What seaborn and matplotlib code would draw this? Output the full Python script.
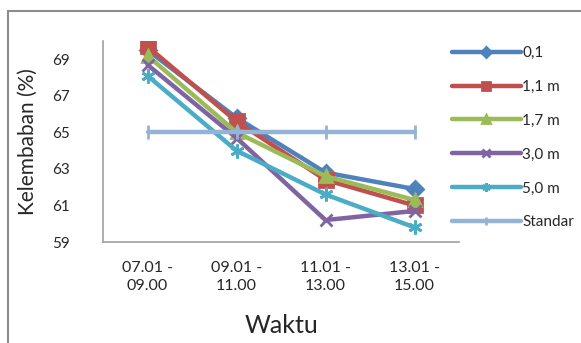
import numpy as np
import pandas as pd
import matplotlib.pyplot as plt
import seaborn as sns
from matplotlib.patches import Rectangle

# data
waktu = ["07.01 -\n09.00", "09.01 -\n11.00", "11.01 -\n13.00", "13.01 -\n15.00"]
seri = ["0,1", "1,1 m", "1,7 m", "3,0 m", "5,0 m", "Standar"]
h_01 = [69.5, 65.8, 62.8, 61.9]
h_11 = [69.7, 65.6, 62.4, 61.0]
h_17 = [69.2, 65.0, 62.6, 61.3]
h_30 = [68.7, 64.7, 60.2, 60.7]
h_50 = [68.1, 64.0, 61.6, 59.8]
standar = [65.0, 65.0, 65.0, 65.0]

warna = ["#4F81BD", "#C0504D", "#9BBB59", "#8064A2", "#4BACC6", "#95B3D7"]
penanda = ["D", "s", "^", "x", (6, 2, 0), "|"]
ukuran = [8, 10, 9, 9, 10, 10]

df = pd.DataFrame({
    "waktu": np.tile(np.arange(len(waktu)), len(seri)),
    "kelembaban": h_01 + h_11 + h_17 + h_30 + h_50 + standar,
    "seri": np.repeat(seri, len(waktu)),
})

sns.set_style("white")
plt.rcParams["font.family"] = ["Lato", "DejaVu Sans"]

fig = plt.figure(figsize=(5.81, 3.43), dpi=100)
ax = fig.add_axes([103 / 581, 1 - 242 / 343, (459 - 103) / 581, (242 - 41) / 343])

for nama, c, m, ms in zip(seri, warna, penanda, ukuran):
    sub = df[df["seri"] == nama]
    sns.lineplot(data=sub, x="waktu", y="kelembaban", ax=ax, color=c, marker=m,
                 markersize=ms, markeredgecolor=c, markeredgewidth=2,
                 linewidth=3.2, label=nama)

ax.set_xlim(-0.5, 3.5)
ax.set_ylim(59, 70)
ax.set_yticks([59, 61, 63, 65, 67, 69])
ax.set_xticks(range(len(waktu)))
ax.set_xticklabels(waktu, fontsize=11.5, linespacing=1.35)
ax.tick_params(axis="y", labelsize=11, length=0, pad=24)
ax.tick_params(axis="x", length=0, pad=14)
ax.set_xlabel("Waktu", fontsize=18, labelpad=15)
ax.set_ylabel("Kelembaban (%)", fontsize=15, labelpad=10)

for s in ["top", "right"]:
    ax.spines[s].set_visible(False)
for s in ["left", "bottom"]:
    ax.spines[s].set_color("#A0A0A0")
    ax.spines[s].set_linewidth(1.2)

ax.legend(loc="upper left", bbox_to_anchor=(452 / 581, 1 - 46 / 343),
          bbox_transform=fig.transFigure, borderaxespad=0, borderpad=0,
          frameon=False, fontsize=11, handlelength=4.5, labelspacing=1.3,
          handletextpad=0.1, markerscale=0.6)

# outer chart border (top and left only visible in reference)
fig.patches.append(Rectangle((8 / 581, -0.1), 1.0, (343 - 11) / 343 + 0.1,
                             transform=fig.transFigure, fill=False,
                             edgecolor="#8C8C8C", linewidth=1.5))

fig.savefig("out.png", dpi=100)
